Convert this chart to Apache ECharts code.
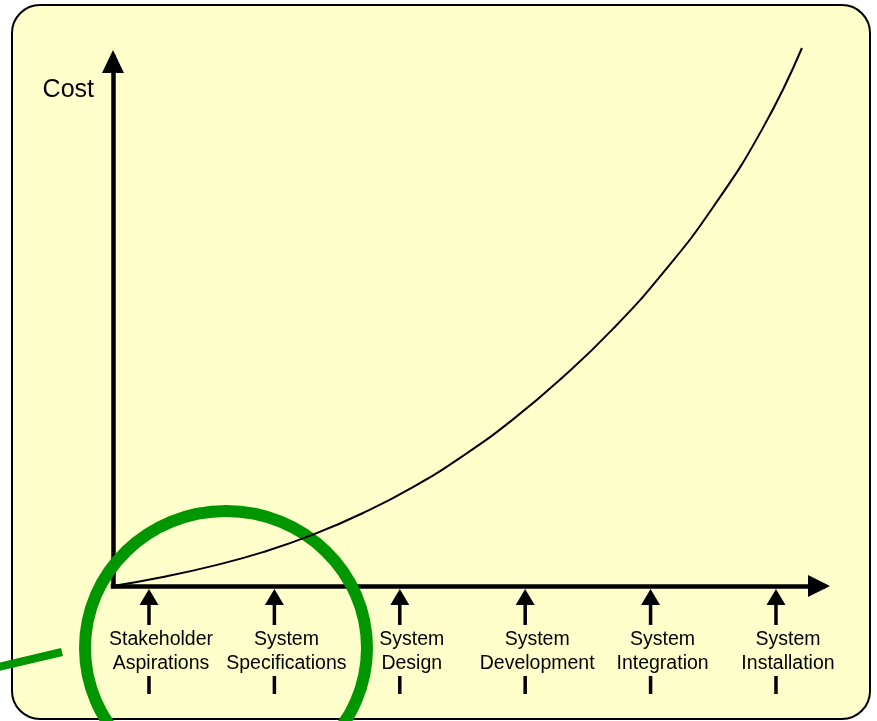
<!DOCTYPE html>
<html>
<head>
<meta charset="utf-8">
<script src="https://cdn.jsdelivr.net/npm/echarts@6/dist/echarts.min.js"></script>
<style>
  html, body { margin: 0; padding: 0; background: #ffffff; }
  #chart { width: 877px; height: 721px; }
</style>
</head>
<body>
<div id="chart"></div>
<script>
// Life-cycle phases along the horizontal axis (one tick per phase)
var phases = [
  'Stakeholder\nAspirations',
  'System\nSpecifications',
  'System\nDesign',
  'System\nDevelopment',
  'System\nIntegration',
  'System\nInstallation'
];

// Cost curve: position along the life cycle (phase units) and relative cost
var curveX = [-0.287, 0.112, 0.510, 0.909, 1.308, 1.707, 2.105, 2.504, 2.903, 3.301, 3.700, 4.099, 4.498, 4.896, 5.207];
var curveY = [0, 1.7, 3.8, 6.4, 9.7, 13.8, 18.7, 24.6, 31.5, 39.5, 48.6, 59.2, 71.6, 86.6, 101.7];

var FONT = "'Liberation Sans', Arial, Helvetica, sans-serif";

var curveData = curveX.map(function (x, i) { return [x, curveY[i]]; });
var phaseData = phases.map(function (name, i) { return [i, 0]; });

var chart = echarts.init(document.getElementById('chart'), null, { renderer: 'canvas' });

chart.setOption({
  animation: false,
  backgroundColor: '#ffffff',
  grid: { left: 113, top: 57, width: 710, height: 529, outerBoundsMode: 'none', containLabel: false },
  graphic: [
    {
      type: 'rect', z: -10,
      shape: { x: 12, y: 5, width: 858, height: 714, r: 28 },
      style: { fill: '#FFFFCC', stroke: '#000000', lineWidth: 2 }
    },
    {
      type: 'ellipse', z: 1,
      shape: { cx: 226, cy: 648, rx: 141, ry: 137 },
      style: { fill: null, stroke: '#009600', lineWidth: 12 }
    },
    {
      type: 'line', z: 1,
      shape: { x1: -2, y1: 667, x2: 62, y2: 652 },
      style: { stroke: '#009600', lineWidth: 8 }
    }
  ],
  xAxis: {
    type: 'value',
    min: -0.287,
    max: 5.375,
    axisLine: {
      show: true, onZero: false,
      symbol: ['none', 'triangle'],
      symbolSize: [22, 22],
      symbolOffset: [0, -4],
      lineStyle: { color: '#000', width: 4.5, cap: 'square' }
    },
    axisTick: { show: false },
    axisLabel: { show: false },
    splitLine: { show: false }
  },
  yAxis: {
    type: 'value',
    min: 0,
    max: 100,
    name: 'Cost',
    nameLocation: 'end',
    nameGap: -33,
    nameTextStyle: {
      fontFamily: FONT, fontSize: 25, color: '#000',
      align: 'right', verticalAlign: 'middle', padding: [0, 19, 0, 0]
    },
    axisLine: {
      show: true, onZero: false,
      symbol: ['none', 'triangle'],
      symbolSize: [22, 23],
      symbolOffset: [0, -4.5],
      lineStyle: { color: '#000', width: 4.5, cap: 'square' }
    },
    axisTick: { show: false },
    axisLabel: { show: false },
    splitLine: { show: false }
  },
  series: [
    {
      type: 'line',
      data: curveData,
      smooth: 0.5,
      showSymbol: false,
      clip: false,
      z: 3,
      lineStyle: { color: '#000', width: 2 }
    },
    {
      // phase markers under the time axis: arrow, two-line label, short tick
      type: 'custom',
      data: phaseData,
      clip: false,
      z: 2,
      renderItem: function (params, api) {
        var p = api.coord([api.value(0), api.value(1)]);
        var x = p[0], y = p[1];
        return {
          type: 'group',
          children: [
            {
              type: 'polygon',
              shape: { points: [[x, y + 3], [x - 9.5, y + 19], [x + 9.5, y + 19]] },
              style: { fill: '#000' }
            },
            {
              type: 'rect',
              shape: { x: x - 1.75, y: y + 17, width: 3.5, height: 22 },
              style: { fill: '#000' }
            },
            {
              type: 'text',
              x: x + 12,
              y: y + 66,
              style: {
                text: phases[params.dataIndex],
                fontFamily: FONT,
                fontSize: 19.5,
                lineHeight: 24,
                fill: '#000',
                align: 'center',
                verticalAlign: 'middle'
              }
            },
            {
              type: 'rect',
              shape: { x: x - 1.75, y: y + 90, width: 3.5, height: 18 },
              style: { fill: '#000' }
            }
          ]
        };
      }
    }
  ]
});
</script>
</body>
</html>
